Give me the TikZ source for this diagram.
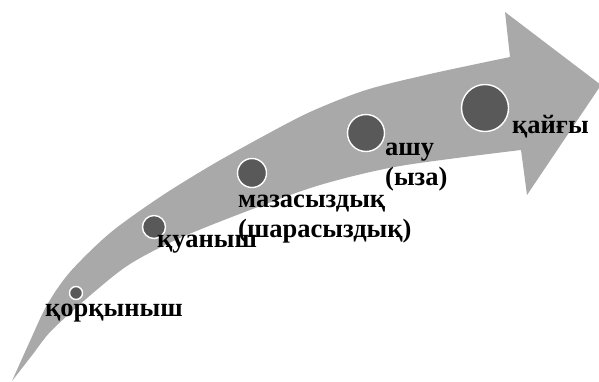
\documentclass[tikz,border=0pt]{standalone}
\usepackage{fontspec}
\setmainfont{Liberation Serif}

\begin{document}
\begin{tikzpicture}[x=1pt, y=-1pt]
    \definecolor{arrowColour}{HTML}{A9A9A9}
    \definecolor{dotColour}{HTML}{595959}

    \tikzset{
        dot/.style={circle, fill=dotColour, draw=white, line width=1.4pt, inner sep=0pt},
        label/.style={font=\fontsize{26.5}{30}\selectfont\bfseries, inner sep=0pt, align=left, anchor=base west}
    }

    \useasboundingbox (0,0) rectangle (599,381);

    % Head of the arrow
    \coordinate (headTop) at (505,12);
    \coordinate (headTip) at (601,85);
    \coordinate (headBottom) at (527,195);

    % Draw the curved arrow
    \fill[arrowColour]
        plot[smooth] coordinates {(12,381) (30,341) (47,305) (70,272) (110,233) (160,197) (210,166) (260,138) (310,112) (366,90) (430,74) (510,57)}
        -- (headTop) -- (headTip) -- (headBottom) -- (521,150)
        -- plot[smooth] coordinates {(521,150) (400,166) (320,185) (250,210) (180,238) (130,264) (93,293) (52,330) (33,354) (12,381)}
        -- cycle;

    % Draw the dots, growing along the arrow
    \node[dot, minimum size=13pt] (fear)    at (76,293) {};
    \node[dot, minimum size=23pt] (joy)     at (154,227) {};
    \node[dot, minimum size=29pt] (unrest)  at (252,173) {};
    \node[dot, minimum size=37pt] (anger)   at (366,133) {};
    \node[dot, minimum size=47pt] (sorrow)  at (485,108) {};

    % Labels (base is the last line)
    \node[label] (fearText)   at (45,316)  {қорқыныш};
    \node[label] (joyText)    at (157,247) {қуаныш};
    \node[label] (unrestText) at (238,237) {мазасыздық\\(шарасыздық)};
    \node[label] (angerText)  at (385,185) {ашу\\(ыза)};
    \node[label] (sorrowText) at (512,133) {қайғы};
\end{tikzpicture}
\end{document}
